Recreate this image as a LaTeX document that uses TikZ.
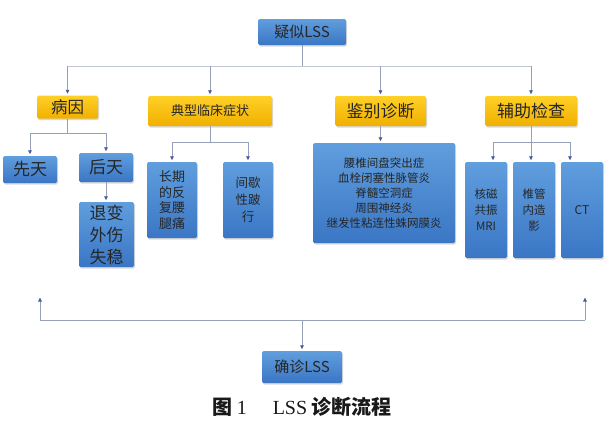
\documentclass[tikz,border=0pt]{standalone}
\usepackage{fontspec}
\setmainfont{Noto Sans CJK SC}
\newfontfamily\capserif{Liberation Serif}
\usetikzlibrary{arrows.meta, shadows}
\definecolor{boxblue}{RGB}{96,158,222}
\definecolor{boxbluedark}{RGB}{58,118,196}
\definecolor{boxyellow}{RGB}{255,208,40}
\definecolor{boxyellowdark}{RGB}{240,176,0}
\definecolor{linegray}{RGB}{150,160,182}
\definecolor{tipblue}{RGB}{72,92,160}
\newcommand{\fsz}[2]{\fontsize{#1}{#2}\selectfont}

\begin{document}
\begin{tikzpicture}[x=1pt, y=-1pt,
    bbox/.style={rounded corners=1.5pt, inner sep=0pt, align=center, text=black!85,
                 top color=boxblue, bottom color=boxbluedark,
                 drop shadow={shadow xshift=1pt, shadow yshift=-1.5pt, opacity=0.3}},
    ybox/.style={bbox, top color=boxyellow, bottom color=boxyellowdark},
    lin/.style={draw=linegray, line width=0.8pt},
    arr/.style={lin, -{Triangle[length=4pt, width=3.6pt, color=tipblue]}, shorten >=1.5pt}
  ]
  \fill[white] (0,0) rectangle (604,426);
  \useasboundingbox (0,0) rectangle (604,426);

  % top and first level
  \node[bbox, minimum width=88pt, minimum height=26pt, font=\fsz{15}{18}] (suspect) at (302,32) {疑似LSS};
  \node[ybox, minimum width=61pt, minimum height=23pt, font=\fsz{16.5}{20}] (cause) at (67.5,107) {病因};
  \node[ybox, minimum width=124pt, minimum height=30pt, font=\fsz{13}{16}] (symp) at (210,111) {典型临床症状};
  \node[ybox, minimum width=91pt, minimum height=30pt, font=\fsz{17}{20}] (diff) at (380.5,111) {鉴别诊断};
  \node[ybox, minimum width=92pt, minimum height=30pt, font=\fsz{17}{20}] (aux) at (531,111) {辅助检查};

  % second level
  \node[bbox, minimum width=54pt, minimum height=27pt, font=\fsz{17}{20}] (congen) at (30,169.5) {先天};
  \node[bbox, minimum width=54pt, minimum height=29pt, font=\fsz{17}{20}] (acq) at (106,167.5) {后天};
  \node[bbox, minimum width=55pt, minimum height=65pt, font=\fsz{17}{22}] (degen) at (106.5,234.5) {退变\\外伤\\失稳};
  \node[bbox, minimum width=50pt, minimum height=76pt, font=\fsz{13}{15.5}] (pain) at (172,200) {长期\\的反\\复腰\\腿痛};
  \node[bbox, minimum width=50pt, minimum height=76pt, font=\fsz{12.5}{17}] (claud) at (248,200) {间歇\\性跛\\行};
  \node[bbox, minimum width=142pt, minimum height=100pt, font=\fsz{11.5}{15}] (dlist) at (384,193)
    {腰椎间盘突出症\\血栓闭塞性脉管炎\\脊髓空洞症\\周围神经炎\\继发性粘连性蛛网膜炎};
  \node[bbox, minimum width=42pt, minimum height=96pt, font=\fsz{11.5}{16}] (mri) at (486,210) {核磁\\共振\\MRI};
  \node[bbox, minimum width=42pt, minimum height=96pt, font=\fsz{11.5}{16}] (myelo) at (534,210) {椎管\\内造\\影};
  \node[bbox, minimum width=42pt, minimum height=96pt, font=\fsz{12}{16}] (ct) at (582,210) {CT};

  \node[bbox, minimum width=80pt, minimum height=32pt, font=\fsz{15}{18}] (confirm) at (302,367) {确诊LSS};
  \node[font=\fsz{20}{24}\bfseries, text=black!90] (caption) at (302,407)
    {图 {\capserif\mdseries 1}\hspace{1.3em}{\capserif\mdseries LSS} 诊断流程};

  % connectors
  \coordinate (topbus) at (0,66);
  \coordinate (causebus) at (0,133);
  \coordinate (sympbus) at (0,142);
  \coordinate (a1) at (493,142);
  \coordinate (a2) at (531,142);
  \coordinate (a3) at (570,142);
  \draw[lin] (suspect.south) -- (suspect.south |- topbus);
  \draw[lin, draw=linegray!60] (cause.north |- topbus) -- (aux.north |- topbus);
  \foreach \n in {cause, symp, diff, aux}
    \draw[arr] (\n.north |- topbus) -- (\n.north);

  \draw[lin] (cause.south) -- (cause.south |- causebus);
  \draw[lin] (congen.north |- causebus) -- (acq.north |- causebus);
  \draw[arr] (congen.north |- causebus) -- (congen.north);
  \draw[arr] (acq.north |- causebus) -- (acq.north);
  \draw[arr] (acq.south) -- (acq.south |- degen.north);

  \draw[lin] (symp.south) -- (symp.south |- sympbus);
  \draw[lin] (pain.north |- sympbus) -- (claud.north |- sympbus);
  \draw[arr] (pain.north |- sympbus) -- (pain.north);
  \draw[arr] (claud.north |- sympbus) -- (claud.north);

  \draw[arr] (diff.south) -- (diff.south |- dlist.north);

  \draw[lin] (aux.south) -- (a2);
  \draw[lin] (a1) -- (a3);
  \draw[arr] (a1) -- (a1 |- mri.north);
  \draw[arr] (a2) -- (a2 |- myelo.north);
  \draw[arr] (a3) -- (a3 |- ct.north);

  % back to the confirmation
  \coordinate (lup) at (40,296);
  \coordinate (rup) at (585,296);
  \coordinate (bl) at (40,320);
  \coordinate (br) at (585,320);
  \draw[lin] (bl) -- (br);
  \draw[arr] (bl) -- (lup);
  \draw[arr] (br) -- (rup);
  \draw[arr] (confirm.north |- bl) -- (confirm.north);
\end{tikzpicture}
\end{document}
